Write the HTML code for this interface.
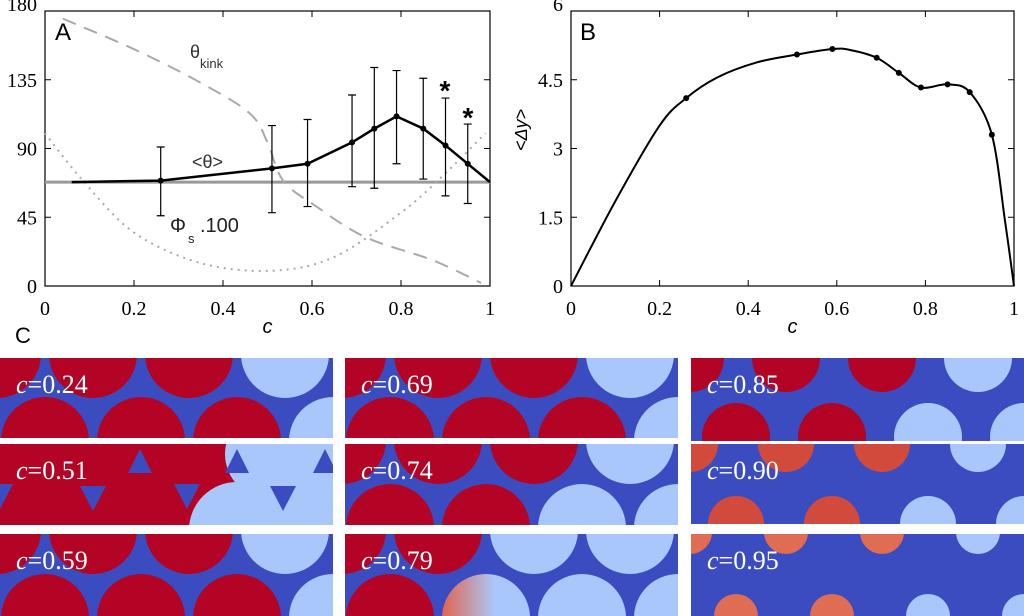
<!DOCTYPE html>
<html><head><meta charset="utf-8">
<style>
html,body{margin:0;padding:0;background:#fff;overflow:hidden;}
body{width:1024px;height:616px;overflow:hidden;position:relative;font-family:"Liberation Sans",sans-serif;}
svg{position:absolute;left:0;top:0;display:block;}
.serif{font-family:"Liberation Serif",serif;}
</style></head>
<body>
<svg id="fig" width="1024" height="616" viewBox="0 0 1024 616" overflow="hidden"></svg>
<script>
// ---- Panel A data ----
const aC = [0.26,0.51,0.59,0.69,0.74,0.79,0.85,0.90,0.95,1.0];
const aMean = [69,77,80,94,103,111,103,92,80,68];
const aLo = [46,48,52,65,64,80,70,59,54,null];
const aHi = [91,105,109,125,143,141,136,123,106,null];
const aLineStart = [0.06,68];
const aBaseline = 68;
const kinkC = [0.04,0.2,0.35,0.46,0.5,0.535,0.61,0.72,0.87,0.98];
const kinkV = [175,155,133,113,94,69,52,32,17,2];
const phiC = [0,0.085,0.2,0.35,0.51,0.65,0.8,0.89,0.99];
const phiV = [100,69,35,15,10,19,48,71,100];
const aYTicks = [0,45,90,135,180];
const xTicks = [0,0.2,0.4,0.6,0.8,1];
const xTickLabels = ["0","0.2","0.4","0.6","0.8","1"];
// ---- Panel B data ----
const bC = [0,0.1,0.2,0.26,0.33,0.42,0.51,0.59,0.63,0.69,0.74,0.79,0.85,0.90,0.95,0.98,1.0];
const bV = [0,1.85,3.5,4.1,4.55,4.88,5.05,5.17,5.15,4.98,4.65,4.33,4.4,4.23,3.3,1.4,0];
const bMarkC = [0.26,0.51,0.59,0.69,0.74,0.79,0.85,0.90,0.95];
const bMarkV = [4.1,5.05,5.17,4.98,4.65,4.33,4.4,4.23,3.3];
const bYTicks = [0,1.5,3,4.5,6];
const bYTickLabels = ["0","1.5","3","4.5","6"];

const NS="http://www.w3.org/2000/svg";
const svg=document.getElementById('fig');
function mk(tag,attrs,parent){const e=document.createElementNS(NS,tag);for(const k in attrs)e.setAttribute(k,attrs[k]);(parent||svg).appendChild(e);return e;}

const A={x0:45,x1:490,y0:286,y1:11,vmax:180};
const ax=c=>A.x0+c*(A.x1-A.x0), ay=v=>A.y0-v/A.vmax*(A.y0-A.y1);
const B={x0:571,x1:1014,y0:286,y1:11,vmax:6};
const bx=c=>B.x0+c*(B.x1-B.x0), by=v=>B.y0-v/B.vmax*(B.y0-B.y1);

function catmull(pts){let d=`M${pts[0][0]},${pts[0][1]}`;for(let i=0;i<pts.length-1;i++){const p0=pts[i-1]||pts[i],p1=pts[i],p2=pts[i+1],p3=pts[i+2]||p2;
d+=` C${p1[0]+(p2[0]-p0[0])/6},${p1[1]+(p2[1]-p0[1])/6} ${p2[0]-(p3[0]-p1[0])/6},${p2[1]-(p3[1]-p1[1])/6} ${p2[0]},${p2[1]}`;}return d;}

function frame(X,fx,fy,yt,ytl,name){
  const g=mk('g',{});
  
  
  const r=mk('rect',{x:X.x0,y:X.y1,width:X.x1-X.x0,height:X.y0-X.y1,fill:'none',stroke:'#000','stroke-width':1.2},g);
  
  
  xTicks.forEach((c,i)=>{const x=fx(c);
    mk('line',{x1:x,x2:x,y1:X.y0,y2:X.y0-6,stroke:'#000'},g);
    mk('line',{x1:x,x2:x,y1:X.y1,y2:X.y1+6,stroke:'#000'},g);
    const t=mk('text',{x:x,y:315,'text-anchor':'middle','font-size':20,class:'serif'},g);t.textContent=xTickLabels[i];
    
    });
  yt.forEach((v,i)=>{const y=fy(v);
    mk('line',{x1:X.x0,x2:X.x0+6,y1:y,y2:y,stroke:'#000'},g);
    mk('line',{x1:X.x1,x2:X.x1-6,y1:y,y2:y,stroke:'#000'},g);
    const t=mk('text',{x:X.x0-8,y:y+(v===X.vmax?0:7),'text-anchor':'end','font-size':20,class:'serif'},g);t.textContent=ytl[i];
    
    });
  const xl=mk('text',{x:(X.x0+X.x1)/2,y:333,'text-anchor':'middle','font-size':20,'font-style':'italic'},g);xl.textContent='c';
  
  
}
frame(A,ax,ay,aYTicks,aYTicks.map(String),'panel-a');
frame(B,bx,by,bYTicks,bYTickLabels,'panel-b');

function txt(x,y,s,attrs,name){const t=mk('text',Object.assign({x:x,y:y},attrs));t.textContent=s;return t;}

// Panel A
txt(55,40,'A',{'font-size':24},'panel-a-label');
const base=mk('line',{x1:ax(0),x2:ax(1),y1:ay(aBaseline),y2:ay(aBaseline),stroke:'#999','stroke-width':3});


const kink=mk('path',{d:catmull(kinkC.map((c,i)=>[ax(c),ay(kinkV[i])])),fill:'none',stroke:'#aaa','stroke-width':2,'stroke-dasharray':'14,9'});


const phi=mk('path',{d:catmull(phiC.map((c,i)=>[ax(c),ay(phiV[i])])),fill:'none',stroke:'#aaa','stroke-width':2,'stroke-dasharray':'2,5'});


aC.forEach((c,i)=>{if(aLo[i]==null)return;const x=ax(c);
  const eb=mk('path',{d:`M${x},${ay(aLo[i])}V${ay(aHi[i])}M${x-4},${ay(aLo[i])}H${x+4}M${x-4},${ay(aHi[i])}H${x+4}`,stroke:'#000','stroke-width':1.2,fill:'none'});
  
  });
const meanPts=[[ax(aLineStart[0]),ay(aLineStart[1])]].concat(aC.map((c,i)=>[ax(c),ay(aMean[i])]));
const mean=mk('polyline',{points:meanPts.map(p=>p.join(',')).join(' '),fill:'none',stroke:'#000','stroke-width':2.5});


aC.forEach((c,i)=>{if(aLo[i]==null)return;const p=mk('circle',{cx:ax(c),cy:ay(aMean[i]),r:3,fill:'#000'});
  
  });
txt(190,58,'θ',{'font-size':18,fill:'#333'},'theta-kink-label');
txt(200,68,'kink',{'font-size':13,fill:'#333'},'theta-kink-subscript');
txt(192,168,'<θ>',{'font-size':18,fill:'#333'},'mean-theta-label');
txt(170,232,'Φ',{'font-size':20,fill:'#222'},'phi-s-label');
txt(188,243,'s',{'font-size':13,fill:'#222'},'phi-s-subscript');
txt(200,232,'.100',{'font-size':20,fill:'#222'},'phi-s-scale');
txt(445,100,'*',{'font-size':28,'font-weight':'bold','text-anchor':'middle'},'significance-star');
txt(468,127,'*',{'font-size':28,'font-weight':'bold','text-anchor':'middle'},'significance-star');

// Panel B
txt(580,40,'B',{'font-size':24},'panel-b-label');
txt(0,0,'<Δy>',{'font-size':18,'font-style':'italic','text-anchor':'middle',transform:'translate(527,130) rotate(-90)'},'panel-b-y-axis-title');
const bl=mk('path',{d:catmull(bC.map((c,i)=>[bx(c),by(bV[i])])),fill:'none',stroke:'#000','stroke-width':2});


bMarkC.forEach((c,i)=>{const p=mk('circle',{cx:bx(c),cy:by(bMarkV[i]),r:3,fill:'#000'});
  
  });

// Panel C
txt(15,343,'C',{'font-size':22},'panel-c-label');
const RED='#b40426',BLUE='#3b4cc0',LIGHT='#aac7fb';
const tiles=[
 {x:0,y:358,w:333,h:80,lab:'0.24',r:44,ty:-4,by:83,top:[RED,RED,RED,LIGHT],bot:[RED,RED,RED,LIGHT],ox:[-3,45]},
 {x:0,y:444,w:333,h:81,lab:'0.51',special:true},
 {x:0,y:534,w:333,h:82,lab:'0.59',r:44,ty:-4,by:84,top:[RED,RED,RED,LIGHT],bot:[RED,RED,RED,LIGHT],ox:[-3,45]},
 {x:345,y:358,w:333,h:80,lab:'0.69',r:44,ty:-4,by:83,top:[RED,RED,RED,LIGHT],bot:[RED,RED,RED,LIGHT],ox:[-3,45]},
 {x:345,y:444,w:333,h:81,lab:'0.74',r:44,ty:-4,by:84,top:[RED,RED,RED,LIGHT],bot:[RED,RED,LIGHT,LIGHT],ox:[-3,45]},
 {x:345,y:534,w:333,h:82,lab:'0.79',r:44,ty:-4,by:84,top:[RED,RED,LIGHT,LIGHT],bot:[RED,'grad',LIGHT,LIGHT],ox:[-3,45]},
 {x:691,y:358,w:333,h:83,lab:'0.85',r:34,ty:0,by:79,top:[RED,RED,RED,LIGHT],bot:[RED,RED,LIGHT,LIGHT],ox:[-1,45]},
 {x:691,y:444,w:333,h:80,lab:'0.90',r:28,ty:0,by:80,top:['#d24a3c','#d24a3c','#d24a3c',LIGHT],bot:['#d24a3c','#d24a3c',LIGHT,LIGHT],ox:[-1,45]},
 {x:691,y:534,w:333,h:82,lab:'0.95',r:22,ty:-2,by:82,top:['#e06c53','#e06c53','#e06c53',LIGHT],bot:['#e06c53','#e06c53',LIGHT,LIGHT],ox:[-1,45]}
];
const defs=mk('defs',{});
const lg=mk('linearGradient',{id:'gr',x1:0,x2:1,y1:0,y2:0},defs);
mk('stop',{offset:'0',['stop-color']:'#e0654e'},lg);mk('stop',{offset:'0.6',['stop-color']:LIGHT},lg);
tiles.forEach((t,k)=>{
  const g=mk('g',{});
  
  
  const cp=mk('clipPath',{id:'cp'+k},defs);mk('rect',{x:t.x,y:t.y,width:t.w,height:t.h},cp);
  const inner=mk('g',{'clip-path':`url(#cp${k})`},g);
  if(t.special){
    mk('rect',{x:t.x,y:t.y,width:t.w,height:t.h,fill:RED},inner);
    mk('rect',{x:235,y:t.y,width:100,height:t.h,fill:LIGHT},inner);
    mk('circle',{cx:237,cy:t.y+86,r:48,fill:LIGHT},inner);
    mk('circle',{cx:270,cy:t.y+10,r:45,fill:LIGHT},inner);
    [[140,t.y+17],[237,t.y+17],[325,t.y+17]].forEach(p=>{const tr=mk('polygon',{points:`${p[0]},${p[1]-12} ${p[0]-12},${p[1]+12} ${p[0]+12},${p[1]+12}`,fill:BLUE},inner);
      });
    [[0,t.y+50],[93,t.y+52],[187,t.y+50],[283,t.y+52]].forEach(p=>{const tr=mk('polygon',{points:`${p[0]-13},${p[1]-10} ${p[0]+13},${p[1]-10} ${p[0]},${p[1]+15}`,fill:BLUE},inner);
      });
  } else {
    mk('rect',{x:t.x,y:t.y,width:t.w,height:t.h,fill:BLUE},inner);
    t.top.forEach((col,i)=>{const c=mk('circle',{cx:t.x+t.ox[0]+i*96,cy:t.y+t.ty,r:t.r,fill:col=='grad'?'url(#gr)':col},inner);
      });
    t.bot.forEach((col,i)=>{const c=mk('circle',{cx:t.x+t.ox[1]+i*96,cy:t.y+t.by,r:t.r,fill:col=='grad'?'url(#gr)':col},inner);
      });
  }
  const tx=mk('text',{x:t.x+16,y:t.y+35,fill:'#fff','font-size':26,class:'serif'},g);
  
  
  const ts=mk('tspan',{'font-style':'italic'},tx);ts.textContent='c';
  const ts2=mk('tspan',{},tx);ts2.textContent='='+t.lab;
});
</script>
</body></html>
